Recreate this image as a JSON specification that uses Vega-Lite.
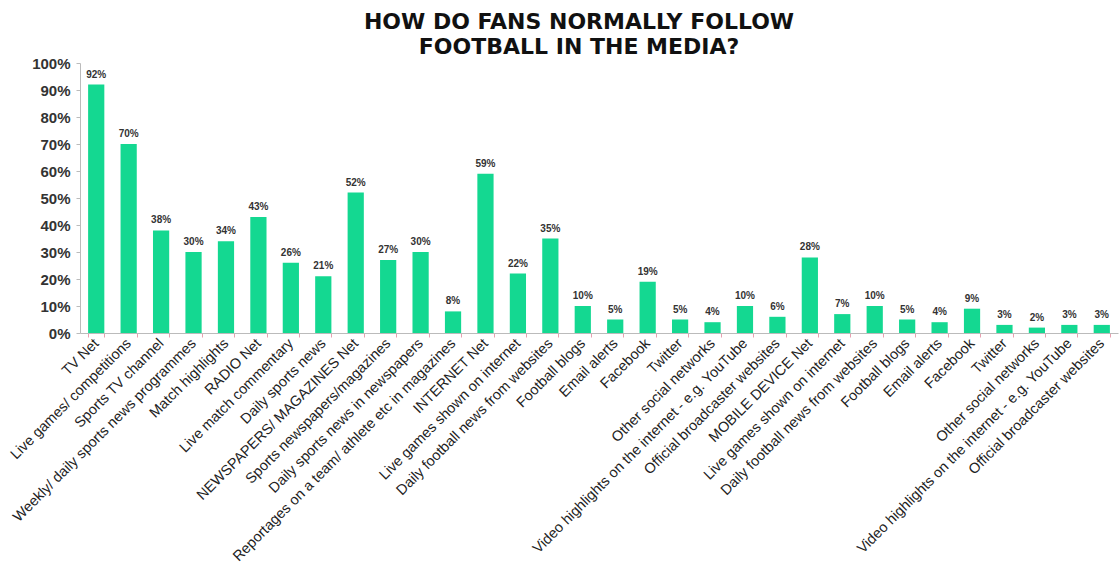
{
  "$schema": "https://vega.github.io/schema/vega-lite/v6.json",
  "width": 1038,
  "height": 270,
  "autosize": {"type": "none"},
  "padding": {"left": 80, "top": 63, "right": 1, "bottom": 243},
  "background": "white",
  "title": {
    "text": ["HOW DO FANS NORMALLY FOLLOW", "FOOTBALL IN THE MEDIA?"],
    "font": "DejaVu Sans",
    "fontWeight": "bold",
    "fontSize": 22,
    "lineHeight": 25,
    "color": "#111111",
    "anchor": "middle",
    "frame": "group",
    "dx": -20,
    "offset": -3
  },
  "data": {
    "values": [
      {"id": "01 TV Net", "v": 0.92},
      {"id": "02 Live games/ competitions", "v": 0.70},
      {"id": "03 Sports TV channel", "v": 0.38},
      {"id": "04 Weekly/ daily sports news programmes", "v": 0.30},
      {"id": "05 Match highlights", "v": 0.34},
      {"id": "06 RADIO Net", "v": 0.43},
      {"id": "07 Live match commentary", "v": 0.26},
      {"id": "08 Daily sports news", "v": 0.21},
      {"id": "09 NEWSPAPERS/ MAGAZINES Net", "v": 0.52},
      {"id": "10 Sports newspapers/magazines", "v": 0.27},
      {"id": "11 Daily sports news in newspapers", "v": 0.30},
      {"id": "12 Reportages on a team/ athlete etc in magazines", "v": 0.08},
      {"id": "13 INTERNET Net", "v": 0.59},
      {"id": "14 Live games shown on internet", "v": 0.22},
      {"id": "15 Daily football news from websites", "v": 0.35},
      {"id": "16 Football blogs", "v": 0.10},
      {"id": "17 Email alerts", "v": 0.05},
      {"id": "18 Facebook", "v": 0.19},
      {"id": "19 Twitter", "v": 0.05},
      {"id": "20 Other social networks", "v": 0.04},
      {"id": "21 Video highlights on the internet - e.g. YouTube", "v": 0.10},
      {"id": "22 Official broadcaster websites", "v": 0.06},
      {"id": "23 MOBILE DEVICE Net", "v": 0.28},
      {"id": "24 Live games shown on internet", "v": 0.07},
      {"id": "25 Daily football news from websites", "v": 0.10},
      {"id": "26 Football blogs", "v": 0.05},
      {"id": "27 Email alerts", "v": 0.04},
      {"id": "28 Facebook", "v": 0.09},
      {"id": "29 Twitter", "v": 0.03},
      {"id": "30 Other social networks", "v": 0.02},
      {"id": "31 Video highlights on the internet - e.g. YouTube", "v": 0.03},
      {"id": "32 Official broadcaster websites", "v": 0.03}
    ]
  },
  "encoding": {
    "x": {
      "field": "id",
      "type": "nominal",
      "sort": null,
      "scale": {"paddingInner": 0.5, "paddingOuter": 0.25},
      "axis": {
        "title": null,
        "labelExpr": "slice(datum.label, 3)",
        "labelAngle": -45,
        "labelAlign": "right",
        "labelBaseline": "middle",
        "labelFont": "Liberation Sans",
        "labelFontSize": 14.5,
        "labelColor": "#222222",
        "labelPadding": 4,
        "labelOverlap": false,
        "labelLimit": 400,
        "tickBand": "extent",
        "tickColor": "#e8a0b0",
        "tickSize": 4,
        "domainColor": "#bbbbbb",
        "grid": false
      }
    },
    "y": {
      "field": "v",
      "type": "quantitative",
      "scale": {"domain": [0, 1]},
      "axis": {
        "title": null,
        "format": ".0%",
        "values": [0, 0.1, 0.2, 0.3, 0.4, 0.5, 0.6, 0.7, 0.8, 0.9, 1],
        "labelFont": "Liberation Sans",
        "labelFontSize": 15,
        "labelFontWeight": "bold",
        "labelColor": "#333333",
        "labelPadding": 6,
        "grid": false,
        "ticks": true,
        "tickSize": 4,
        "tickColor": "#bbbbbb",
        "domainColor": "#bbbbbb"
      }
    }
  },
  "layer": [
    {"mark": {"type": "bar", "color": "#14D891"}},
    {
      "mark": {"type": "text", "dy": -10, "font": "Liberation Sans", "fontSize": 10, "fontWeight": "bold", "color": "#333333"},
      "encoding": {"text": {"field": "v", "type": "quantitative", "format": ".0%"}}
    }
  ],
  "config": {"view": {"stroke": null}}
}
